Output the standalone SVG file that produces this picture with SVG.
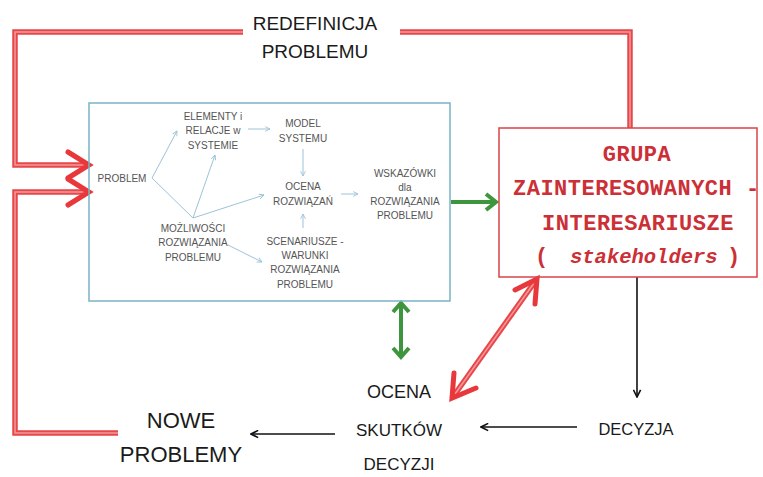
<svg xmlns="http://www.w3.org/2000/svg" width="763" height="477" viewBox="0 0 763 477">
<style>
.small{font-family:"Liberation Sans",Arial,sans-serif;font-size:10px;fill:#555;text-anchor:middle}
.big{font-family:"Liberation Sans",Arial,sans-serif;fill:#1a1a1a;text-anchor:middle}
.mono{font-family:"Liberation Mono","Courier New",monospace;font-weight:bold;fill:#cc2f36;font-size:22px;letter-spacing:0.5px}
.ro{fill:none;stroke:#e8474a;stroke-width:5.5;stroke-linejoin:miter}
.ri{fill:none;stroke:#f49a9a;stroke-width:1.5}
.rh{fill:none;stroke:#e8383c;stroke-width:5;stroke-linecap:round;stroke-linejoin:miter}
.g{fill:none;stroke:#3d963d;stroke-width:4;stroke-linejoin:miter}
.b{fill:none;stroke:#111;stroke-width:1.6}
.t{fill:none;stroke:#9cc3d8;stroke-width:1}
</style>
<defs>
<marker id="bh" viewBox="0 0 10 10" refX="9" refY="5" markerWidth="9" markerHeight="9" markerUnits="userSpaceOnUse" orient="auto">
<path d="M1,1 L9,5 L1,9" fill="none" stroke="#111" stroke-width="1.8"/>
</marker>
<marker id="th" viewBox="0 0 10 10" refX="9" refY="5" markerWidth="6" markerHeight="6" markerUnits="userSpaceOnUse" orient="auto">
<path d="M1,1 L9,5 L1,9" fill="none" stroke="#9cc3d8" stroke-width="1.5"/>
</marker>
</defs>

<g id="connectors">
<path class="ro" d="M243,32 H15 V165 H84"/>
<path class="ri" d="M243,32 H15 V165 H84"/>
<path class="rh" d="M68,152 L89,165 L68,178"/>
<path class="ro" d="M118,433 H15 V192 H84"/>
<path class="ri" d="M118,433 H15 V192 H84"/>
<path class="rh" d="M68,179 L89,192 L68,205"/>
<path class="ro" d="M400,32 H630 V128"/>
<path class="ri" d="M400,32 H630 V128"/>
<line class="g" x1="451" y1="202" x2="494" y2="202"/>
<path class="g" d="M486,194 L496,202 L486,210"/>
<line class="g" x1="401" y1="305" x2="401" y2="355"/>
<path class="g" d="M393,312 L401,303 L409,312"/>
<path class="g" d="M393,348 L401,357 L409,348"/>
<line x1="534" y1="283" x2="455" y2="394" stroke="#e8474a" stroke-width="5.5"/>
<line x1="534" y1="283" x2="455" y2="394" stroke="#f49a9a" stroke-width="1.5"/>
<path class="rh" d="M515,290 L537,279 L535,304"/>
<path class="rh" d="M454,373 L452,398 L476,388"/>
<line class="b" x1="637" y1="277" x2="637" y2="397" marker-end="url(#bh)"/>
<line class="b" x1="577" y1="427" x2="481" y2="427" marker-end="url(#bh)"/>
<line class="b" x1="335" y1="434" x2="251" y2="434" marker-end="url(#bh)"/>
<line class="t" x1="152" y1="178" x2="177" y2="131" marker-end="url(#th)"/>
<line class="t" x1="152" y1="178" x2="193" y2="218"/>
<line class="t" x1="193" y1="218" x2="215" y2="155" marker-end="url(#th)"/>
<line class="t" x1="193" y1="218" x2="264" y2="195" marker-end="url(#th)"/>
<line class="t" x1="228" y1="245" x2="262" y2="262" marker-end="url(#th)"/>
<line class="t" x1="248" y1="129" x2="270" y2="129" marker-end="url(#th)"/>
<line class="t" x1="303" y1="149" x2="303" y2="176" marker-end="url(#th)"/>
<line class="t" x1="303" y1="228" x2="303" y2="214" marker-end="url(#th)"/>
<line class="t" x1="341" y1="194" x2="358" y2="194" marker-end="url(#th)"/>
</g>

<g id="redefinicja">
<text class="big" font-size="19" x="315" y="30">REDEFINICJA</text>
<text class="big" font-size="19" x="315" y="58">PROBLEMU</text>
</g>

<g id="system-box">
<rect x="89" y="103" width="361" height="198" fill="none" stroke="#7ab3c4" stroke-width="1.5"/>
</g>
<g id="problem"><text class="small" x="122" y="182">PROBLEM</text></g>
<g id="elementy">
<text class="small" x="213" y="120">ELEMENTY i</text>
<text class="small" x="213" y="134">RELACJE w</text>
<text class="small" x="213" y="149">SYSTEMIE</text>
</g>
<g id="model">
<text class="small" x="303" y="127">MODEL</text>
<text class="small" x="303" y="142">SYSTEMU</text>
</g>
<g id="ocena-rozw">
<text class="small" x="303" y="190">OCENA</text>
<text class="small" x="303" y="205">ROZWIĄZAŃ</text>
</g>
<g id="scenariusze">
<text class="small" x="305" y="245">SCENARIUSZE -</text>
<text class="small" x="305" y="259">WARUNKI</text>
<text class="small" x="305" y="273">ROZWIĄZANIA</text>
<text class="small" x="305" y="288">PROBLEMU</text>
</g>
<g id="wskazowki">
<text class="small" x="405" y="177">WSKAZÓWKI</text>
<text class="small" x="405" y="191">dla</text>
<text class="small" x="405" y="205">ROZWIĄZANIA</text>
<text class="small" x="405" y="219">PROBLEMU</text>
</g>
<g id="mozliwosci">
<text class="small" x="193" y="232">MOŻLIWOŚCI</text>
<text class="small" x="193" y="246">ROZWIĄZANIA</text>
<text class="small" x="193" y="261">PROBLEMU</text>
</g>

<g id="stakeholders">
<rect x="499" y="128" width="258" height="149" fill="none" stroke="#d9434a" stroke-width="1.5"/>
<text class="mono" x="637" y="161" text-anchor="middle">GRUPA</text>
<text class="mono" x="513" y="195">ZAINTERESOWANYCH -</text>
<text class="mono" x="638" y="230" text-anchor="middle">INTERESARIUSZE</text>
<text class="mono" x="535" y="263">(<tspan x="570" font-style="italic" font-size="20.5" letter-spacing="0">stakeholders</tspan><tspan x="727">)</tspan></text>
</g>

<g id="ocena-skutkow">
<text class="big" font-size="18" x="399" y="398">OCENA</text>
<text class="big" font-size="17" x="399" y="436">SKUTKÓW</text>
<text class="big" font-size="17" x="399" y="470">DECYZJI</text>
</g>
<g id="decyzja"><text class="big" font-size="16.5" x="636" y="435">DECYZJA</text></g>
<g id="nowe">
<text class="big" font-size="22" x="181" y="428">NOWE</text>
<text class="big" font-size="22" x="181" y="462">PROBLEMY</text>
</g>
</svg>
